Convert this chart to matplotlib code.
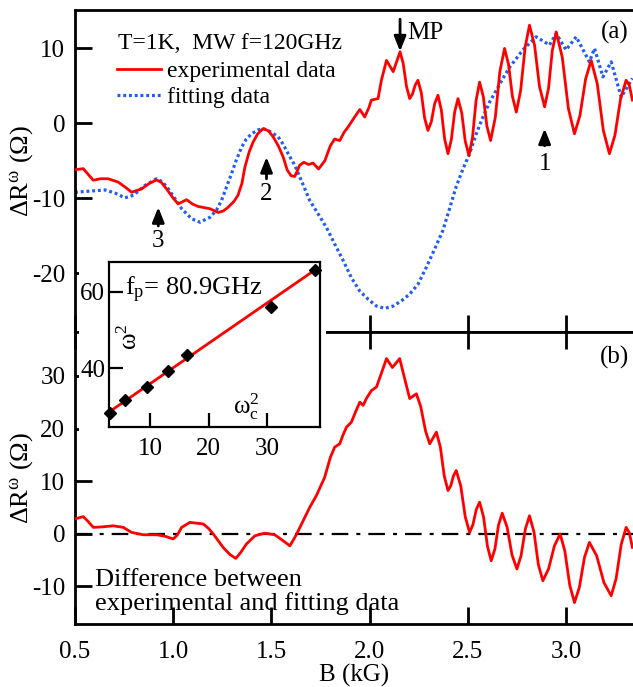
import matplotlib
matplotlib.use("Agg")
import matplotlib.pyplot as plt
from matplotlib.lines import Line2D
from matplotlib.patches import Rectangle

plt.rcParams["font.family"] = ["Liberation Serif", "DejaVu Serif"]
plt.rcParams["mathtext.fontset"] = "custom"
plt.rcParams["mathtext.rm"] = "Liberation Serif"
plt.rcParams["mathtext.it"] = "Liberation Serif:italic"
plt.rcParams["mathtext.default"] = "regular"

# ---- data ----
# (a) experimental trace
exp_B = [0.50, 0.542, 0.57, 0.593, 0.63, 0.669, 0.72, 0.76, 0.788, 0.839, 0.88, 0.915,
         0.94, 0.966, 1.0, 1.025, 1.045, 1.068, 1.10, 1.127, 1.187, 1.229, 1.255, 1.28,
         1.31, 1.33, 1.35, 1.365, 1.387, 1.407, 1.43, 1.458, 1.485, 1.509, 1.535, 1.56,
         1.58, 1.60, 1.619, 1.644, 1.665, 1.69, 1.712, 1.74, 1.772, 1.80, 1.822, 1.848,
         1.87, 1.89, 1.924, 1.95, 1.975, 1.995, 2.009, 2.043, 2.06, 2.086, 2.12, 2.155,
         2.171, 2.188, 2.204, 2.218, 2.232, 2.246, 2.263, 2.280, 2.297, 2.314, 2.331, 2.348,
         2.365, 2.382, 2.399, 2.416, 2.433, 2.45, 2.469, 2.487, 2.506, 2.524, 2.542, 2.56,
         2.579, 2.597, 2.616, 2.64, 2.663, 2.687, 2.707, 2.727, 2.747, 2.769, 2.792, 2.814,
         2.84, 2.865, 2.891, 2.911, 2.93, 2.95, 2.981, 3.012, 3.043, 3.071, 3.10, 3.128,
         3.159, 3.19, 3.221, 3.249, 3.278, 3.306, 3.322, 3.338]
exp_R = [-6.2, -6.05, -6.9, -7.6, -7.4, -7.4, -7.85, -8.6, -9.2, -8.75, -8.0, -7.55,
         -7.9, -8.75, -10.0, -10.75, -10.5, -10.2, -10.8, -11.1, -11.4, -11.9, -11.7, -11.2,
         -10.4, -9.6, -8.0, -5.85, -3.8, -2.5, -1.4, -0.7, -1.0, -1.8, -3.0, -4.5,
         -6.2, -7.0, -7.1, -5.6, -5.2, -5.5, -5.3, -6.1, -5.0, -3.0, -2.1, -2.3,
         -1.2, -0.5, 0.85, 1.85, 0.85, 2.0, 3.1, 3.3, 5.75, 8.4, 6.9, 9.55,
         8.0, 4.9, 3.3, 3.9, 5.1, 5.75, 4.1, 0.7, -0.95, 0.2, 2.6, 3.75,
         1.8, -2.1, -4.05, -2.2, 1.5, 3.3, 1.4, -2.4, -4.3, -1.85, 3.05, 5.5,
         3.55, -0.35, -2.3, 0.8, 6.9, 10.0, 7.9, 3.6, 1.5, 4.4, 10.2, 13.1,
         10.4, 4.9, 2.2, 4.7, 9.7, 12.2, 8.8, 2.0, -1.4, 1.05, 5.95, 8.4,
         5.3, -0.95, -4.05, -1.6, 3.3, 5.75, 5.1, 3.1]

# (a) fitting trace
fit_B = [0.50, 0.576, 0.653, 0.703, 0.754, 0.797, 0.856, 0.915, 0.945, 0.975, 1.01, 1.043,
         1.094, 1.136, 1.187, 1.22, 1.246, 1.27, 1.297, 1.32, 1.348, 1.372, 1.399, 1.43,
         1.458, 1.50, 1.534, 1.56, 1.585, 1.619, 1.655, 1.695, 1.738, 1.78, 1.822, 1.865,
         1.907, 1.95, 1.993, 2.035, 2.077, 2.12, 2.162, 2.204, 2.246, 2.289, 2.331, 2.373,
         2.407, 2.44, 2.475, 2.509, 2.543, 2.577, 2.611, 2.645, 2.679, 2.713, 2.747, 2.78,
         2.848, 2.916, 2.95, 3.0, 3.052, 3.119, 3.145, 3.188, 3.23, 3.281, 3.338]
fit_R = [-9.2, -9.05, -8.9, -9.3, -9.95, -9.6, -8.3, -7.4, -7.8, -8.75, -10.1, -11.4,
         -12.75, -13.2, -12.55, -11.6, -10.3, -8.6, -6.7, -5.0, -3.2, -2.1, -1.4, -0.9,
         -0.7, -1.2, -1.8, -2.8, -4.05, -5.6, -7.8, -10.3, -12.1, -13.9, -16.1, -18.3,
         -20.6, -22.4, -23.5, -24.4, -24.7, -24.4, -23.7, -22.8, -21.5, -19.2, -16.8, -14.3,
         -11.4, -8.5, -6.1, -4.05, -1.4, 0.85, 2.85, 4.4, 6.0, 7.5, 8.65, 9.8,
         11.55, 10.45, 12.0, 9.8, 11.55, 8.2, 10.0, 6.2, 8.2, 3.5, 6.0]

# (b) experimental minus fitting
diff_B = [0.50, 0.542, 0.565, 0.593, 0.64, 0.695, 0.746, 0.788, 0.847, 0.915, 0.96, 1.0,
          1.02, 1.043, 1.085, 1.153, 1.18, 1.204, 1.254, 1.29, 1.319, 1.345, 1.373, 1.416,
          1.466, 1.517, 1.56, 1.594, 1.61, 1.628, 1.67, 1.695, 1.729, 1.771, 1.80, 1.822,
          1.848, 1.865, 1.882, 1.907, 1.93, 1.95, 1.967, 1.985, 2.009, 2.035, 2.06, 2.086,
          2.116, 2.153, 2.175, 2.204, 2.238, 2.26, 2.285, 2.306, 2.32, 2.34, 2.36, 2.38,
          2.399, 2.413, 2.427, 2.441, 2.464, 2.487, 2.509, 2.526, 2.543, 2.56, 2.58, 2.60,
          2.619, 2.638, 2.656, 2.675, 2.70, 2.725, 2.75, 2.771, 2.793, 2.814, 2.837, 2.859,
          2.882, 2.911, 2.941, 2.97, 2.994, 3.019, 3.043, 3.068, 3.094, 3.119, 3.156, 3.193,
          3.23, 3.255, 3.281, 3.306, 3.322, 3.338]
diff_R = [2.8, 3.25, 2.4, 1.2, 1.3, 1.5, 1.2, 0.25, -0.2, -0.2, -0.5, -1.0,
          -0.3, 1.2, 2.15, 1.85, 1.0, -0.05, -2.6, -4.0, -4.7, -3.5, -1.95, -0.4,
          0.1, -0.2, -1.35, -2.3, -1.3, -0.1, 3.1, 5.0, 7.25, 10.7, 14.5, 16.45,
          17.1, 18.8, 20.25, 21.2, 23.3, 25.0, 24.4, 25.8, 27.2, 27.9, 30.5, 33.3,
          31.6, 33.3, 30.0, 25.7, 26.6, 24.2, 19.5, 17.1, 18.0, 19.3, 16.5, 11.0,
          8.2, 9.1, 11.0, 12.0, 9.1, 3.2, 0.25, 1.7, 4.6, 6.0, 3.2, -2.4,
          -5.15, -2.9, 1.6, 3.9, 1.25, -4.05, -6.7, -4.2, 0.9, 3.4, 0.3, -5.85,
          -8.95, -6.7, -2.3, -0.05, -3.3, -9.8, -13.1, -10.2, -4.5, -1.65, -4.2, -9.3,
          -11.8, -8.55, -2.05, 1.2, 0.2, -2.6]

# inset: omega^2 vs omega_c^2
wc2 = [3.14, 5.7, 9.43, 13.1, 16.3, 30.75, 38.3]
w2 = [28.4, 31.7, 35.0, 39.4, 43.6, 55.9, 65.7]
fit_slope, fit_icpt = 1.05, 25.5
fit_x = [3.0, 38.4]

# annotated arrows: (B, head value, tail value, label, label value)
arrows = [(2.891, -0.7, -3.0, "1", -5.4),
          (1.475, -4.5, -7.4, "2", -9.5),
          (0.924, -11.2, -13.7, "3", -15.7)]

W, H = 633, 687
fig = plt.figure(figsize=(W / 100, H / 100), dpi=100)


def fx(px):
    return px / W


def fy(py):
    return 1 - py / H


ax_a = fig.add_axes([fx(75), fy(332), fx(558), 322 / H])
ax_b = fig.add_axes([fx(75), fy(624), fx(558), 292 / H])

for ax in (ax_a, ax_b):
    ax.set_xlim(0.5, 3.341)
    for s in ax.spines.values():
        s.set_linewidth(2)
    ax.spines["right"].set_visible(False)
    ax.tick_params(direction="in", length=12, width=2, labelsize=18)
    ax.tick_params(axis="x", pad=12)
    ax.tick_params(axis="y", pad=7)
    ax.set_xticks([0.5, 1.0, 1.5, 2.0, 2.5, 3.0])

# panel (a)
ax_a.set_ylim(-27.86, 15.13)
ax_a.set_yticks([-20, -10, 0, 10])
ax_a.set_yticklabels(["-20", "-10", "0", "10"])
ax_a.tick_params(axis="x", labelbottom=False)
ax_a.plot(exp_B, exp_R, color="#ff0000", lw=2.0, zorder=3)
ax_a.plot(fit_B, fit_R, color="#1f5ef0", lw=2.3, ls=(0, (0.9, 0.9)), zorder=2)
ax_a.set_ylabel(r"$\Delta R^{\omega}$ ($\Omega$)", fontsize=19)
ax_a.yaxis.set_label_coords(-0.072, 0.5)

ax_a.text(0.0771, 0.8975, "T=1K,  MW f=120GHz", transform=ax_a.transAxes,
          fontsize=17, ha="left", va="center")
handles = [Line2D([], [], color="#ff0000", lw=2.0),
           Line2D([], [], color="#1f5ef0", lw=2.3, ls=(0, (0.9, 0.9)))]
ax_a.legend(handles, ["experimental data", "fitting data"], loc="upper left",
            bbox_to_anchor=(0.0753, 0.843), frameon=False, fontsize=17,
            handlelength=1.85, handletextpad=0.25, labelspacing=0.2,
            borderpad=0, borderaxespad=0)

ax_a.annotate("", xy=(2.155, 9.6), xytext=(2.155, 13.9),
              arrowprops=dict(arrowstyle="-|>,head_length=0.45,head_width=0.18",
                              mutation_scale=20, lw=2, color="k",
                              shrinkA=0, shrinkB=0))
ax_a.text(2.19, 12.0, "MP", fontsize=18, ha="left", va="center")
for b, head, tail, lab, ly in arrows:
    ax_a.annotate("", xy=(b, head), xytext=(b, tail),
                  arrowprops=dict(arrowstyle="-|>,head_length=0.45,head_width=0.18",
                                  mutation_scale=20, lw=2, color="k",
                                  shrinkA=0, shrinkB=0))
    ax_a.text(b, ly, lab, fontsize=18, ha="center", va="center")
ax_a.text(0.943, 0.929, "(a)", transform=ax_a.transAxes, fontsize=18,
          ha="left", va="center")

# panel (b)
ax_b.set_ylim(-17.17, 38.35)
ax_b.set_yticks([-10, 0, 10, 20, 30])
ax_b.set_yticklabels(["-10", "0", "10", "20", "30"])
ax_b.tick_params(axis="x", top=True)
ax_b.set_xticklabels(["0.5", "1.0", "1.5", "2.0", "2.5", "3.0"])
ax_b.plot(diff_B, diff_R, color="#ff0000", lw=2.0, zorder=3)
ax_b.axhline(0, color="k", lw=1.6, ls=(0, (7.5, 3.6, 1.8, 3.6)), zorder=2)
ax_b.set_xlabel("B (kG)", fontsize=18, labelpad=1)
ax_b.set_ylabel(r"$\Delta R^{\omega}$ ($\Omega$)", fontsize=19)
ax_b.yaxis.set_label_coords(-0.072, 0.5)
ax_b.text(0.036, 0.03, "Difference between\nexperimental and fitting data",
          transform=ax_b.transAxes, fontsize=19, ha="left", va="bottom",
          linespacing=1.05)
ax_b.text(0.94, 0.914, "(b)", transform=ax_b.transAxes, fontsize=18,
          ha="left", va="center")

# white layer behind the inset
fig.patches.append(Rectangle((fx(79), fy(465)), fx(326) - fx(79), fy(259) - fy(465),
                             transform=fig.transFigure, facecolor="white",
                             edgecolor="none", zorder=5))

ax_in = fig.add_axes([fx(109.3), fy(427), fx(320 - 109.3), (427 - 261.7) / H])
ax_in.set_zorder(6)
ax_in.set_xlim(3.0, 39.1)
ax_in.set_ylim(24.7, 67.8)
ax_in.set_xticks([10, 20, 30])
ax_in.set_yticks([40, 60])
for s in ax_in.spines.values():
    s.set_linewidth(1.6)
ax_in.tick_params(direction="in", length=10, width=1.6, labelsize=18)
ax_in.tick_params(axis="x", pad=8)
ax_in.tick_params(axis="y", pad=3)
ax_in.plot(fit_x, [fit_slope * v + fit_icpt for v in fit_x], color="#ff0000", lw=2.0)
ax_in.plot(wc2, w2, ls="none", marker="D", ms=6.5, color="k", clip_on=False)
ax_in.text(5.7, 60.4, r"f$_{\rm p}$= 80.9GHz", fontsize=19, ha="left", va="center")
ax_in.text(6.55, 48.2, r"$\omega^{2}$", fontsize=18, rotation=90,
           ha="center", va="center")
ax_in.text(26.4, 29.9, r"$\omega_{\rm c}^{2}$", fontsize=18, ha="center", va="center")

fig.savefig("out.png", dpi=100)
